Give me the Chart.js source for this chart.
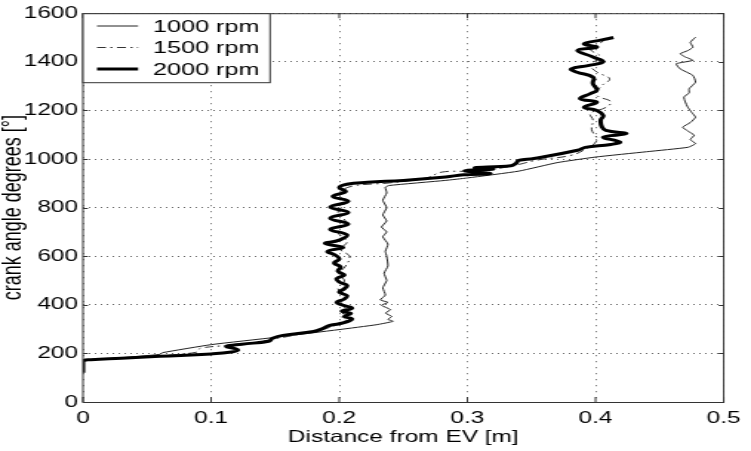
<!DOCTYPE html>
<html>
<head>
<meta charset="utf-8">
<script src="https://cdn.jsdelivr.net/npm/chart.js@4.4.1/dist/chart.umd.min.js"></script>
<style>
    html, body { margin: 0; padding: 0; background: #fff; overflow: hidden; }
    /* the reference is stretched sideways, so the chart is drawn narrow and scaled */
    #wrap { width: 507px; height: 451px; transform: scaleX(1.4813); transform-origin: 0 0; }
</style>
</head>
<body>
<div id="wrap"><canvas id="chart"></canvas></div>
<script>
const FONT = '"Liberation Sans", Arial, Helvetica, sans-serif';
const SX = 1.4813;

const xTicks = [0, 0.1, 0.2, 0.3, 0.4, 0.5];
const yTicks = [0, 200, 400, 600, 800, 1000, 1200, 1400, 1600];
const seriesLabels = ['1000 rpm', '1500 rpm', '2000 rpm'];

// 1000 rpm: distance [m] and crank angle [deg]
const dist1000 = [0.000, 0.000, 0.006, 0.030, 0.060, 0.062, 0.100, 0.150, 0.200, 0.229, 0.242, 0.238, 0.241, 0.236,
    0.240, 0.233, 0.238, 0.232, 0.236, 0.234, 0.237, 0.235, 0.238, 0.237, 0.236, 0.238, 0.234, 0.237, 0.233, 0.237,
    0.234, 0.237, 0.234, 0.237, 0.236, 0.239, 0.283, 0.300, 0.340, 0.370, 0.400, 0.440, 0.472, 0.478, 0.474, 0.477,
    0.472, 0.468, 0.474, 0.478, 0.475, 0.472, 0.470, 0.469, 0.473, 0.473, 0.478, 0.476, 0.466, 0.463, 0.476, 0.470,
    0.466, 0.472, 0.476, 0.474, 0.478];
const angle1000 = [130, 168, 174, 182, 196, 203, 236, 266, 298, 318, 332, 340, 352, 366,
    380, 398, 410, 420, 440, 470, 500, 530, 560, 600, 620, 650, 680, 700, 720, 745,
    770, 800, 830, 860, 884, 891, 912, 922, 950, 985, 1008, 1030, 1048, 1063, 1080, 1098,
    1115, 1131, 1150, 1172, 1192, 1213, 1235, 1255, 1272, 1289, 1316, 1344, 1371, 1392, 1406, 1420,
    1433, 1446, 1460, 1480, 1501];

// 1500 rpm
const dist1500 = [0.000, 0.000, 0.006, 0.030, 0.060, 0.088, 0.090, 0.092, 0.110, 0.135, 0.152, 0.170, 0.188, 0.198,
    0.205, 0.201, 0.207, 0.201, 0.206, 0.199, 0.204, 0.200, 0.205, 0.208, 0.201, 0.206, 0.199, 0.205, 0.199, 0.204,
    0.200, 0.210, 0.240, 0.268, 0.280, 0.300, 0.320, 0.338, 0.355, 0.380, 0.392, 0.401, 0.397, 0.398, 0.396, 0.408,
    0.412, 0.401, 0.404, 0.411, 0.401, 0.396, 0.404, 0.396, 0.404, 0.409];
const angle1500 = [130, 168, 175, 181, 190, 204, 214, 222, 232, 246, 262, 280, 300, 318,
    336, 356, 378, 404, 436, 466, 498, 528, 560, 600, 628, 660, 700, 740, 780, 820,
    858, 888, 902, 922, 946, 950, 958, 975, 996, 1014, 1040, 1078, 1120, 1160, 1188, 1212,
    1236, 1262, 1298, 1330, 1358, 1388, 1420, 1452, 1478, 1500];

// 2000 rpm
const dist2000 = [0.000, 0.000, 0.006, 0.030, 0.060, 0.100, 0.116, 0.121, 0.117, 0.112, 0.124, 0.145, 0.148, 0.156,
    0.180, 0.187, 0.192, 0.200, 0.207, 0.210, 0.204, 0.209, 0.202, 0.210, 0.203, 0.198, 0.204, 0.206, 0.200, 0.204,
    0.206, 0.200, 0.198, 0.204, 0.199, 0.201, 0.196, 0.200, 0.197, 0.191, 0.203, 0.189, 0.200, 0.206, 0.193, 0.207,
    0.193, 0.207, 0.193, 0.207, 0.195, 0.205, 0.200, 0.206, 0.222, 0.250, 0.283, 0.297, 0.318, 0.298, 0.320, 0.306,
    0.334, 0.338, 0.340, 0.352, 0.386, 0.392, 0.412, 0.419, 0.406, 0.424, 0.408, 0.405, 0.404, 0.406, 0.401, 0.391,
    0.401, 0.388, 0.396, 0.401, 0.398, 0.398, 0.385, 0.381, 0.395, 0.406, 0.398, 0.386, 0.401, 0.391, 0.405, 0.414];
const angle2000 = [120, 168, 174, 180, 188, 198, 206, 214, 222, 229, 238, 250, 262, 274,
    290, 302, 314, 322, 332, 342, 352, 364, 374, 386, 398, 410, 424, 438, 452, 466,
    480, 494, 508, 522, 538, 556, 572, 588, 604, 620, 636, 652, 666, 688, 710, 732,
    756, 780, 802, 826, 846, 866, 882, 896, 904, 912, 926, 935, 940, 952, 958, 964,
    972, 982, 994, 1002, 1036, 1048, 1060, 1070, 1090, 1104, 1118, 1132, 1160, 1179, 1200, 1213,
    1234, 1248, 1269, 1283, 1310, 1337, 1358, 1371, 1385, 1400, 1420, 1447, 1460, 1474, 1490, 1500];

function toPoints(dist, angle) {
    return dist.map((d, i) => ({ x: d, y: angle[i] }));
}

// box, inward tick marks and the legend, drawn the way the original plot has them
const framePlugin = {
    id: 'frame',
    afterDatasetsDraw(chart) {
        const { ctx, chartArea: a, scales } = chart;
        ctx.save();
        ctx.strokeStyle = '#333';
        ctx.lineWidth = 1;
        ctx.strokeRect(a.left, a.top + 0.5, a.right - a.left, a.bottom - a.top);

        ctx.beginPath();
        xTicks.forEach((v) => {
            const px = scales.x.getPixelForValue(v);
            ctx.moveTo(px, a.bottom); ctx.lineTo(px, a.bottom - 5);
            ctx.moveTo(px, a.top); ctx.lineTo(px, a.top + 5);
        });
        yTicks.forEach((v) => {
            const py = Math.round(scales.y.getPixelForValue(v)) + 0.5;
            ctx.moveTo(a.left, py); ctx.lineTo(a.left + 5 / SX, py);
            ctx.moveTo(a.right, py); ctx.lineTo(a.right - 5 / SX, py);
        });
        ctx.stroke();

        // legend
        const lx = a.left, ly = a.top + 0.5, lw = 126.3, lh = 69;
        ctx.fillStyle = '#fff';
        ctx.fillRect(lx, ly, lw, lh);
        ctx.strokeStyle = '#333';
        ctx.lineWidth = 1;
        ctx.strokeRect(lx, ly, lw, lh);
        const rows = [26, 47.5, 69];
        chart.data.datasets.forEach((ds, i) => {
            ctx.save();
            ctx.strokeStyle = ds.borderColor;
            ctx.lineWidth = ds.borderWidth;
            ctx.setLineDash(ds.borderDash || []);
            ctx.beginPath();
            ctx.moveTo(65.5, rows[i]);
            ctx.lineTo(93.2, rows[i]);
            ctx.stroke();
            ctx.restore();
            ctx.fillStyle = '#000';
            ctx.font = '17px ' + FONT;
            ctx.textBaseline = 'middle';
            ctx.textAlign = 'left';
            ctx.fillText(ds.label, 103.3, rows[i] + 1);
        });
        ctx.restore();
    },
};

new Chart(document.getElementById('chart'), {
    type: 'scatter',
    data: {
        datasets: [
            {
                label: seriesLabels[0],
                data: toPoints(dist1000, angle1000),
                showLine: true,
                borderColor: '#222',
                borderWidth: 1,
                tension: 0.15,
                pointRadius: 0,
                order: 2,
            },
            {
                label: seriesLabels[1],
                data: toPoints(dist1500, angle1500),
                showLine: true,
                borderColor: '#333',
                borderWidth: 1,
                borderDash: [6, 3, 1.5, 3],
                tension: 0.4,
                pointRadius: 0,
                order: 1,
            },
            {
                label: seriesLabels[2],
                data: toPoints(dist2000, angle2000),
                showLine: true,
                borderColor: '#000',
                borderWidth: 3,
                tension: 0.45,
                pointRadius: 0,
                order: 0,
            },
        ],
    },
    options: {
        responsive: true,
        maintainAspectRatio: false,
        animation: false,
        events: [],
        layout: { padding: { top: 12, right: 13.5, left: 0, bottom: 0 } },
        plugins: {
            legend: { display: false },
            tooltip: { enabled: false },
        },
        scales: {
            x: {
                type: 'linear',
                min: 0,
                max: 0.5,
                afterFit: (scale) => { scale.height = 49; },
                afterBuildTicks: (scale) => { scale.ticks = xTicks.map((v) => ({ value: v })); },
                ticks: {
                    color: '#000',
                    font: { family: FONT, size: 16.5 },
                    padding: 7,
                    maxRotation: 0,
                    callback: (v) => String(v),
                },
                grid: { color: '#666', drawTicks: false, lineWidth: 1 },
                border: { display: false, dash: [1, 5] },
                title: {
                    display: true,
                    text: 'Distance from EV [m]',
                    color: '#000',
                    font: { family: FONT, size: 16.5 },
                    padding: { top: 0, bottom: 4 },
                },
            },
            y: {
                type: 'linear',
                min: 0,
                max: 1600,
                afterFit: (scale) => { scale.width = 56; },
                afterBuildTicks: (scale) => { scale.ticks = yTicks.map((v) => ({ value: v })); },
                ticks: {
                    color: '#000',
                    font: { family: FONT, size: 16.5 },
                    padding: 3.3,
                    callback: (v) => String(v),
                },
                grid: { color: '#666', drawTicks: false, lineWidth: 1 },
                border: { display: false, dash: [1, 3] },
                title: {
                    display: true,
                    text: 'crank angle degrees [°]',
                    color: '#000',
                    font: { family: FONT, size: 18, lineHeight: 1 },
                    padding: { top: 0.5, bottom: 0 },
                },
            },
        },
    },
    plugins: [framePlugin],
});
</script>
</body>
</html>
